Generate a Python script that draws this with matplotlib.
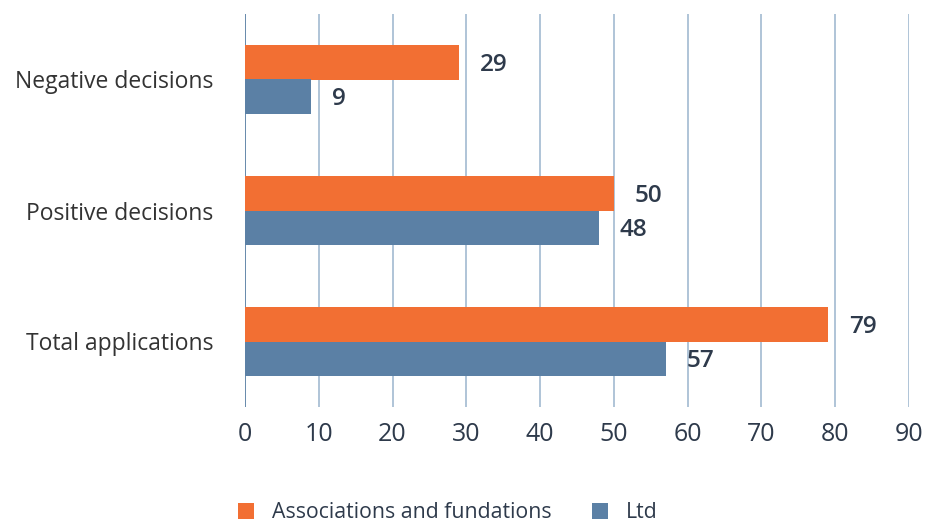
import matplotlib
matplotlib.use("Agg")
import matplotlib.pyplot as plt
import numpy as np

categories = ["Total applications", "Positive decisions", "Negative decisions"]
associations = [79, 50, 29]
ltd = [57, 48, 9]
series_names = ["Associations and fundations", "Ltd"]
xticks = [0, 10, 20, 30, 40, 50, 60, 70, 80, 90]

orange = "#F26F33"
blue = "#5B80A5"
grid_col = "#A9BFD4"
text_col = "#2E3A4B"

plt.rcParams['font.family'] = ['Open Sans', 'DejaVu Sans']

fig = plt.figure(figsize=(9.25, 5.22), dpi=100)
ax = fig.add_axes([245/925, 1-407/522, (909-245)/925, (407-14)/522])

y = np.arange(len(categories))
h = 0.26
ax.barh(y + h/2, associations, height=h, color=orange, label=series_names[0], zorder=3)
ax.barh(y - h/2, ltd, height=h, color=blue, label=series_names[1], zorder=3)

# value labels
for yi, v in zip(y + h/2, associations):
    ax.annotate(str(v), (v, yi), xytext=(15, -2), textcoords="offset points",
                va="center", ha="left", fontsize=17.5, fontweight="semibold", color=text_col)
for yi, v in zip(y - h/2, ltd):
    ax.annotate(str(v), (v, yi), xytext=(15, -2), textcoords="offset points",
                va="center", ha="left", fontsize=17.5, fontweight="semibold", color=text_col)

ax.set_xlim(0, 90)
ax.set_ylim(-0.5, 2.5)
ax.set_xticks(xticks)
ax.set_xticklabels([str(t) for t in xticks], fontsize=18, color=text_col)
ax.set_yticks(y)
ax.set_yticklabels(categories, fontsize=16.5, color="#333333")
ax.tick_params(axis="both", length=0)
ax.tick_params(axis="x", pad=11)
ax.tick_params(axis="y", pad=23)

for t in xticks:
    ax.axvline(t, color=blue if t == 0 else grid_col, linewidth=1.3, zorder=1)
for s in ax.spines.values():
    s.set_visible(False)

fig.legend(loc="center left", bbox_to_anchor=(238/925, 1-513/522), ncol=2, frameon=False,
           fontsize=15.3, handlelength=0.75, handleheight=0.75, columnspacing=1.9,
           handletextpad=0.85, labelcolor=text_col, borderpad=0, borderaxespad=0)

fig.savefig("out.png", dpi=100)
